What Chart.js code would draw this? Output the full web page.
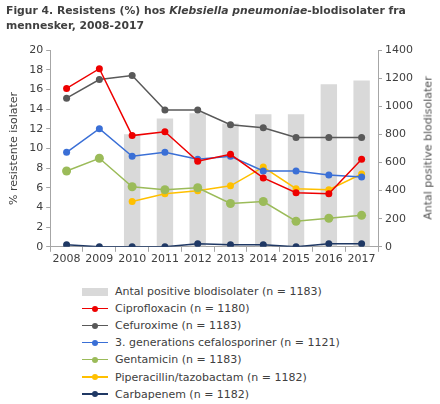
<!DOCTYPE html>
<html>
<head>
<meta charset="utf-8">
<script src="https://cdn.jsdelivr.net/npm/chart.js@4/dist/chart.umd.min.js"></script>
<style>
  body { margin: 0; background: #fff; }
  #wrap { position: relative; width: 440px; height: 404px; font-family: "DejaVu Sans", Verdana, sans-serif; color: #404040; }
  #title { position: absolute; left: 6px; top: 3px; font-size: 10.8px; font-weight: bold; line-height: 15px; color: #404040; }
  #chartBox { position: absolute; left: 0; top: 0; width: 440px; height: 271px; }
  #rightTitle { position: absolute; left: 428px; top: 148px; transform: translate(-50%, -50%) rotate(-90deg); white-space: nowrap; font-size: 11px; font-weight: normal; color: #505050; }
  #legend { position: absolute; left: 82px; top: 283px; font-size: 11px; color: #404040; }
  .item { height: 17.1px; display: flex; align-items: center; }
  .sym { position: relative; width: 26px; height: 10px; margin-right: 7px; }
  .sym .ln { position: absolute; left: 0; right: 0; top: 4px; height: 1.5px; }
  .sym .dot { position: absolute; left: 10px; top: 2px; width: 6px; height: 6px; border-radius: 50%; }
  .sym .box { position: absolute; left: 0; right: 0; top: 1px; height: 8px; background: #d9d9d9; }
</style>
</head>
<body>
<div id="wrap">
  <div id="chartBox"><canvas id="chart"></canvas></div>
  <div id="title">Figur 4. Resistens (%) hos <i>Klebsiella pneumoniae</i>-blodisolater fra<br>mennesker, 2008-2017</div>
  <div id="rightTitle">Antal positive blodisolater</div>
  <div id="legend"></div>
</div>
<script>
// årstal
const years = ['2008', '2009', '2010', '2011', '2012', '2013', '2014', '2015', '2016', '2017'];

// antal blodisolater (højre akse)
const isolates = [null, null, 800, 912, 950, 878, 943, 943, 1157, 1183];

// resistens i procent (venstre akse)
const ciprofloxacin = [16.1, 18.1, 11.3, 11.7, 8.7, 9.4, 7.0, 5.5, 5.4, 8.9];
const cefuroxime = [15.1, 17.0, 17.4, 13.9, 13.9, 12.4, 12.1, 11.1, 11.1, 11.1];
const cephalosporins3 = [9.6, 12.0, 9.2, 9.6, 8.9, 9.2, 7.7, 7.7, 7.3, 7.1];
const gentamicin = [7.7, 9.0, 6.1, 5.8, 6.0, 4.4, 4.6, 2.6, 2.9, 3.2];
const piperacillin = [null, null, 4.6, 5.4, 5.7, 6.2, 8.1, 5.9, 5.8, 7.4];
const carbapenem = [0.2, 0.0, 0.0, 0.0, 0.3, 0.2, 0.2, 0.0, 0.3, 0.3];

const leftTicks = [0, 2, 4, 6, 8, 10, 12, 14, 16, 18, 20];
const rightTicks = [0, 200, 400, 600, 800, 1000, 1200, 1400];

const axisColor = '#a6a6a6';
const textColor = '#404040';

function lineSet(label, data, color, radius) {
    return {
        type: 'line',
        label: label,
        data: data,
        yAxisID: 'y',
        borderColor: color,
        backgroundColor: color,
        borderWidth: 1.5,
        pointRadius: radius,
        pointHoverRadius: radius,
        pointBorderWidth: 0,
        tension: 0,
        order: 1
    };
}

const datasets = [
    {
        type: 'bar',
        label: 'Antal positive blodisolater (n = 1183)',
        data: isolates,
        yAxisID: 'y1',
        backgroundColor: '#d9d9d9',
        barPercentage: 0.5,
        categoryPercentage: 1.0,
        order: 10
    },
    lineSet('Ciprofloxacin (n = 1180)', ciprofloxacin, '#ee0000', 3.5),
    lineSet('Cefuroxime (n = 1183)', cefuroxime, '#595959', 3.5),
    lineSet('3. generations cefalosporiner (n = 1121)', cephalosporins3, '#3a6fd6', 3.5),
    lineSet('Gentamicin (n = 1183)', gentamicin, '#9bbb59', 4.5),
    lineSet('Piperacillin/tazobactam (n = 1182)', piperacillin, '#ffc000', 3.5),
    lineSet('Carbapenem (n = 1182)', carbapenem, '#1f3864', 3.5)
];

const tickFont = { family: '"DejaVu Sans", Verdana, sans-serif', size: 11 };

new Chart(document.getElementById('chart'), {
    type: 'bar',
    data: { labels: years, datasets: datasets },
    options: {
        responsive: true,
        maintainAspectRatio: false,
        animation: false,
        layout: { padding: { top: 50, right: 24, bottom: 4, left: 8 } },
        plugins: {
            legend: { display: false },
            title: { display: false },
            tooltip: { enabled: false }
        },
        scales: {
            x: {
                grid: { display: true, drawOnChartArea: false, drawTicks: true, tickLength: 5, color: axisColor },
                border: { color: axisColor },
                ticks: { color: textColor, font: tickFont, padding: 1, maxRotation: 0 }
            },
            y: {
                position: 'left',
                min: 0,
                max: 20,
                afterBuildTicks: axis => { axis.ticks = leftTicks.map(v => ({ value: v })); },
                grid: { display: true, drawOnChartArea: false, drawTicks: true, tickLength: 4, color: axisColor },
                border: { color: axisColor },
                ticks: { color: textColor, font: tickFont, padding: 3 },
                title: { display: true, text: '% resistente isolater', color: textColor, font: tickFont, padding: { top: 0, bottom: 5 } }
            },
            y1: {
                position: 'right',
                min: 0,
                max: 1400,
                afterBuildTicks: axis => { axis.ticks = rightTicks.map(v => ({ value: v })); },
                grid: { display: true, drawOnChartArea: false, drawTicks: true, tickLength: 4, color: axisColor },
                border: { color: axisColor },
                ticks: { color: textColor, font: tickFont, padding: 3, callback: v => String(v) }
            }
        }
    }
});

// legende i én kolonne som i originalen
const legendBox = document.getElementById('legend');
datasets.forEach(ds => {
    const row = document.createElement('div');
    row.className = 'item';
    const sym = document.createElement('span');
    sym.className = 'sym';
    if (ds.type === 'bar') {
        sym.innerHTML = '<span class="box"></span>';
    } else {
        sym.innerHTML = '<span class="ln" style="background:' + ds.borderColor + '"></span>' +
            '<span class="dot" style="background:' + ds.borderColor + '"></span>';
    }
    const txt = document.createElement('span');
    txt.textContent = ds.label;
    row.appendChild(sym);
    row.appendChild(txt);
    legendBox.appendChild(row);
});
</script>
</body>
</html>
